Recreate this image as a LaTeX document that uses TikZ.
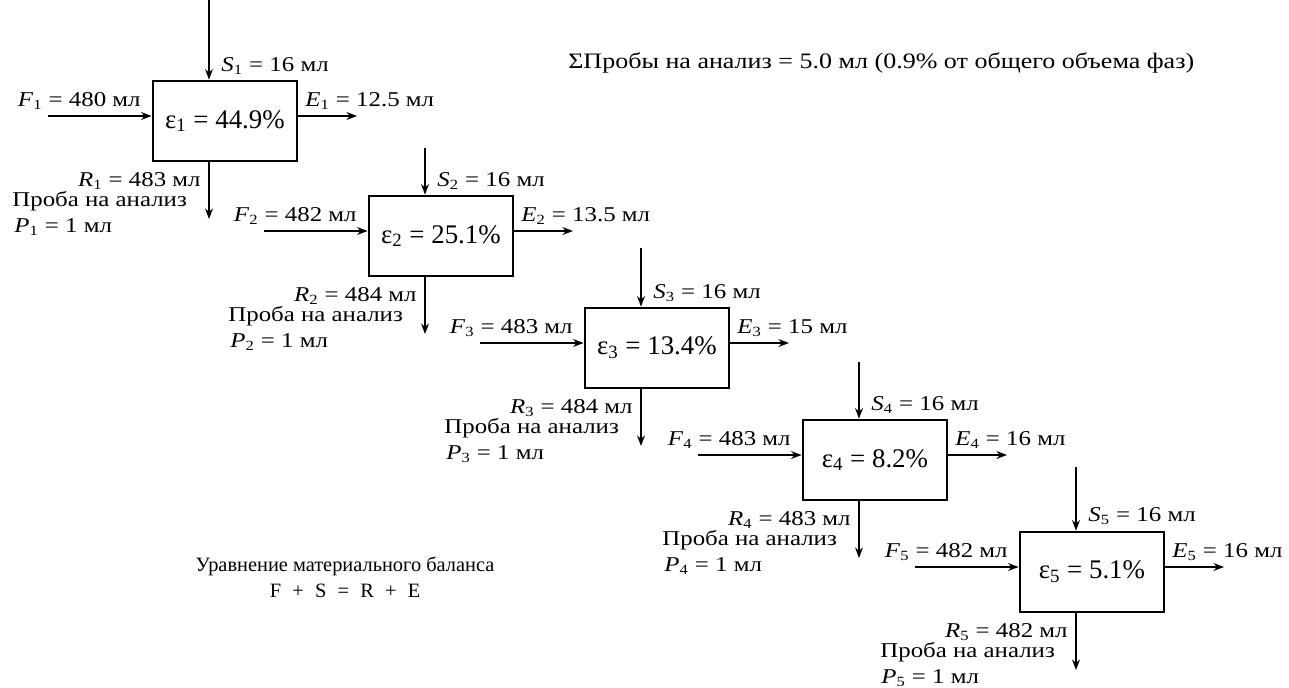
\documentclass[tikz,border=0pt]{standalone}
\usepackage{fontspec}
\setmainfont{Liberation Serif}
\newfontfamily\widefont[FakeStretch=1.18]{Liberation Serif}
\usepackage{tikz}
\usetikzlibrary{arrows.meta}
\newcommand{\phase}[2]{\textit{#1}\textsubscript{#2}}

\tikzset{
	stage/.style={draw, line width=1.6pt, minimum width=2.88cm, minimum height=1.6cm, inner sep=0pt, font=\fontsize{15.3}{18}\selectfont},
	flow/.style={line width=0.75pt, -{Stealth[length=6pt,width=4.5pt]}},
	lbl/.style={inner sep=0pt, font=\widefont\fontsize{12}{14}\selectfont},
	note/.style={inner sep=0pt, font=\fontsize{11.6}{14}\selectfont}
}

\begin{document}
\begin{tikzpicture}[x=0.02cm, y=-0.02cm]
	\useasboundingbox (0,0) rectangle (1289,687);

	\node[stage] (st1) at (225,121) {ε\textsubscript{1} = 44.9\%};
	\coordinate (sin1) at (209,0);
	\coordinate (fin1) at (48,116);
	\coordinate (eout1) at (357,116);
	\coordinate (rout1) at (209,219);
	\draw[flow] (sin1) -- (sin1 |- st1.north);
	\draw[flow] (fin1) -- (fin1 -| st1.west);
	\draw[flow] (eout1 -| st1.east) -- (eout1);
	\draw[flow] (rout1 |- st1.south) -- (rout1);
	\node[lbl, anchor=base west] (s1) at (221,71) {\phase{S}{1} = 16 мл};
	\node[lbl, anchor=base east] (f1) at (141,106) {\phase{F}{1} = 480 мл};
	\node[lbl, anchor=base west] (e1) at (305,106) {\phase{E}{1} = 12.5 мл};
	\node[lbl, anchor=base east] (r1) at (201,186) {\phase{R}{1} = 483 мл};
	\node[lbl, anchor=base west] (pr1) at (12,206) {Проба на анализ};
	\node[lbl, anchor=base west] (p1) at (14,232) {\phase{P}{1} = 1 мл};

	\node[stage] (st2) at (441,236) {ε\textsubscript{2} = 25.1\%};
	\coordinate (sin2) at (425,148);
	\coordinate (fin2) at (264,231);
	\coordinate (eout2) at (573,231);
	\coordinate (rout2) at (425,334);
	\draw[flow] (sin2) -- (sin2 |- st2.north);
	\draw[flow] (fin2) -- (fin2 -| st2.west);
	\draw[flow] (eout2 -| st2.east) -- (eout2);
	\draw[flow] (rout2 |- st2.south) -- (rout2);
	\node[lbl, anchor=base west] (s2) at (437,186) {\phase{S}{2} = 16 мл};
	\node[lbl, anchor=base east] (f2) at (357,221) {\phase{F}{2} = 482 мл};
	\node[lbl, anchor=base west] (e2) at (521,221) {\phase{E}{2} = 13.5 мл};
	\node[lbl, anchor=base east] (r2) at (417,301) {\phase{R}{2} = 484 мл};
	\node[lbl, anchor=base west] (pr2) at (228,321) {Проба на анализ};
	\node[lbl, anchor=base west] (p2) at (230,347) {\phase{P}{2} = 1 мл};

	\node[stage] (st3) at (657,348) {ε\textsubscript{3} = 13.4\%};
	\coordinate (sin3) at (641,248);
	\coordinate (fin3) at (480,343);
	\coordinate (eout3) at (789,343);
	\coordinate (rout3) at (641,446);
	\draw[flow] (sin3) -- (sin3 |- st3.north);
	\draw[flow] (fin3) -- (fin3 -| st3.west);
	\draw[flow] (eout3 -| st3.east) -- (eout3);
	\draw[flow] (rout3 |- st3.south) -- (rout3);
	\node[lbl, anchor=base west] (s3) at (653,298) {\phase{S}{3} = 16 мл};
	\node[lbl, anchor=base east] (f3) at (573,333) {\phase{F}{3} = 483 мл};
	\node[lbl, anchor=base west] (e3) at (737,333) {\phase{E}{3} = 15 мл};
	\node[lbl, anchor=base east] (r3) at (633,413) {\phase{R}{3} = 484 мл};
	\node[lbl, anchor=base west] (pr3) at (444,433) {Проба на анализ};
	\node[lbl, anchor=base west] (p3) at (446,459) {\phase{P}{3} = 1 мл};

	\node[stage] (st4) at (875,460) {ε\textsubscript{4} = 8.2\%};
	\coordinate (sin4) at (859,362);
	\coordinate (fin4) at (698,455);
	\coordinate (eout4) at (1007,455);
	\coordinate (rout4) at (859,558);
	\draw[flow] (sin4) -- (sin4 |- st4.north);
	\draw[flow] (fin4) -- (fin4 -| st4.west);
	\draw[flow] (eout4 -| st4.east) -- (eout4);
	\draw[flow] (rout4 |- st4.south) -- (rout4);
	\node[lbl, anchor=base west] (s4) at (871,410) {\phase{S}{4} = 16 мл};
	\node[lbl, anchor=base east] (f4) at (791,445) {\phase{F}{4} = 483 мл};
	\node[lbl, anchor=base west] (e4) at (955,445) {\phase{E}{4} = 16 мл};
	\node[lbl, anchor=base east] (r4) at (851,525) {\phase{R}{4} = 483 мл};
	\node[lbl, anchor=base west] (pr4) at (662,545) {Проба на анализ};
	\node[lbl, anchor=base west] (p4) at (664,571) {\phase{P}{4} = 1 мл};

	\node[stage] (st5) at (1092,572) {ε\textsubscript{5} = 5.1\%};
	\coordinate (sin5) at (1076,467);
	\coordinate (fin5) at (915,567);
	\coordinate (eout5) at (1224,567);
	\coordinate (rout5) at (1076,670);
	\draw[flow] (sin5) -- (sin5 |- st5.north);
	\draw[flow] (fin5) -- (fin5 -| st5.west);
	\draw[flow] (eout5 -| st5.east) -- (eout5);
	\draw[flow] (rout5 |- st5.south) -- (rout5);
	\node[lbl, anchor=base west] (s5) at (1088,521) {\phase{S}{5} = 16 мл};
	\node[lbl, anchor=base east] (f5) at (1008,557) {\phase{F}{5} = 482 мл};
	\node[lbl, anchor=base west] (e5) at (1172,557) {\phase{E}{5} = 16 мл};
	\node[lbl, anchor=base east] (r5) at (1068,637) {\phase{R}{5} = 482 мл};
	\node[lbl, anchor=base west] (pr5) at (880,657) {Проба на анализ};
	\node[lbl, anchor=base west] (p5) at (881,683) {\phase{P}{5} = 1 мл};

	\node[lbl, anchor=base west, font=\widefont\fontsize{12.55}{14}\selectfont] (total) at (568,68) {ΣПробы на анализ = 5.0 мл (0.9\% от общего объема фаз)};
	\node[note, anchor=base] (baltitle) at (345,571) {Уравнение материального баланса};
	\node[note, anchor=base] (baleq) at (345,597) {F\hspace{0.55em}+\hspace{0.55em}S\hspace{0.55em}=\hspace{0.55em}R\hspace{0.55em}+\hspace{0.55em}E};
\end{tikzpicture}
\end{document}
